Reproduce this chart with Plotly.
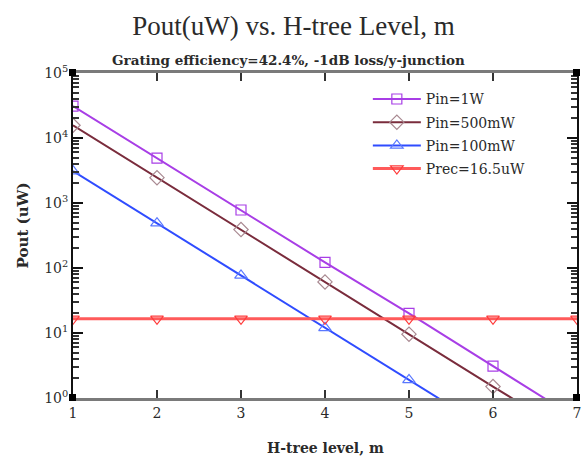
import plotly.graph_objects as go

levels = [1, 2, 3, 4, 5, 6, 7]
pin_1w = [3.1e4, 4.9e3, 780, 122, 20, 3.1, 0.48]
pin_500mw = [1.57e4, 2.45e3, 390, 61, 9.6, 1.5, 0.24]
pin_100mw = [3.1e3, 490, 77, 12, 1.9, 0.3, 0.047]
prec = [16.5, 16.5, 16.5, 16.5, 16.5, 16.5, 16.5]

series_names = ["Pin=1W", "Pin=500mW", "Pin=100mW", "Prec=16.5uW"]
ytick_vals = [1, 10, 100, 1000, 10000, 100000]
ytick_text = ["10<sup>0</sup>", "10<sup>1</sup>", "10<sup>2</sup>", "10<sup>3</sup>",
              "10<sup>4</sup>", "10<sup>5</sup>"]
minor_vals = [m * d for d in [1, 10, 100, 1000, 10000] for m in range(2, 10)]

SERIF = "DejaVu Serif"
TXT = "#2a2a2a"

styles = [
    dict(color="#a83ee6", mcolor="#a83ee6", symbol="square-open", size=10, width=2),
    dict(color="#7a2c3c", mcolor="#a88890", symbol="diamond-open", size=11, width=2),
    dict(color="#2f4cff", mcolor="#5a78ff", symbol="triangle-up-open", size=11, width=2),
    dict(color="#ff5a5a", mcolor="#ff3a3a", symbol="triangle-down-open", size=11, width=3),
]

fig = go.Figure()
# empty helper trace so the minor-tick overlay axis is drawn
fig.add_trace(go.Scatter(x=[], y=[], yaxis="y2", showlegend=False, hoverinfo="skip"))
for name, ys, st in zip(series_names, [pin_1w, pin_500mw, pin_100mw, prec], styles):
    fig.add_trace(go.Scatter(
        x=levels, y=ys, name=name, mode="lines+markers", legendgroup=name,
        line=dict(color=st["color"], width=st["width"]),
        marker=dict(symbol=st["symbol"], size=st["size"], color=st["mcolor"],
                    line=dict(color=st["mcolor"], width=1.2)),
    ))

corner_shapes = []
for px in (0, 1):
    for py in (0, 1):
        corner_shapes.append(dict(
            type="rect", xref="paper", yref="paper",
            xsizemode="pixel", ysizemode="pixel",
            xanchor=px, yanchor=py,
            x0=-4, x1=3, y0=-3, y1=4,
            fillcolor="black", line=dict(width=0), layer="above",
        ))

fig.update_layout(
    width=587, height=459,
    margin=dict(l=73, r=6, t=73, b=61),
    paper_bgcolor="white", plot_bgcolor="white",
    font=dict(family=SERIF, color=TXT, size=13),
    title=dict(text="Pout(uW) vs. H-tree Level, m", x=0.5, xref="container",
               xanchor="center", y=1 - 26 / 459, yref="container", yanchor="middle",
               font=dict(family="Liberation Serif", size=27, color=TXT)),
    showlegend=True,
    legend=dict(x=0.585, y=0.968, xanchor="left", yanchor="top",
                bgcolor="rgba(0,0,0,0)", borderwidth=0,
                font=dict(family=SERIF, size=14, color=TXT),
                itemwidth=48, traceorder="grouped", tracegroupgap=2),
    xaxis=dict(range=[1, 7], tickvals=levels, ticks="inside", ticklen=8,
               tickwidth=2, tickcolor="#333", showline=True, linecolor="#7a7a7a",
               linewidth=3, mirror="ticks", showgrid=False, zeroline=False,
               tickfont=dict(family=SERIF, size=14, color=TXT)),
    yaxis=dict(type="log", range=[0, 5], tickmode="array", tickvals=ytick_vals,
               ticktext=ytick_text,
               ticks="inside", ticklen=10, tickwidth=2, tickcolor="#111",
               showline=True, linecolor="#111", linewidth=2, mirror="ticks",
               showgrid=False, zeroline=False,
               tickfont=dict(family=SERIF, size=14, color=TXT)),
    yaxis2=dict(type="log", range=[0, 5], overlaying="y", side="left",
                tickmode="array", tickvals=minor_vals, showticklabels=False,
                ticks="inside", ticklen=6, tickwidth=1.5, tickcolor="#333",
                showline=False, mirror="ticks", showgrid=False, zeroline=False),
    shapes=corner_shapes,
    annotations=[
        dict(text="<b>Grating efficiency=42.4%, -1dB loss/y-junction</b>",
             xref="paper", yref="paper", x=(290 - 73) / 508, y=(398 - 60) / 325,
             xanchor="center", yanchor="middle", showarrow=False,
             font=dict(family=SERIF, size=13.5, color=TXT)),
        dict(text="<b>H-tree level, m</b>", xref="paper", yref="paper",
             x=0.5, y=(398 - 448) / 325, xanchor="center", yanchor="middle",
             showarrow=False, font=dict(family=SERIF, size=14, color=TXT)),
        dict(text="<b>Pout (uW)</b>", xref="paper", yref="paper",
             x=(23 - 73) / 508, y=(398 - 225) / 325, xanchor="center",
             yanchor="middle", textangle=-90, showarrow=False,
             font=dict(family=SERIF, size=15, color=TXT)),
    ],
)

fig.write_html("out.html", config={"displayModeBar": False},
               post_script="document.body.style.margin='0';")
